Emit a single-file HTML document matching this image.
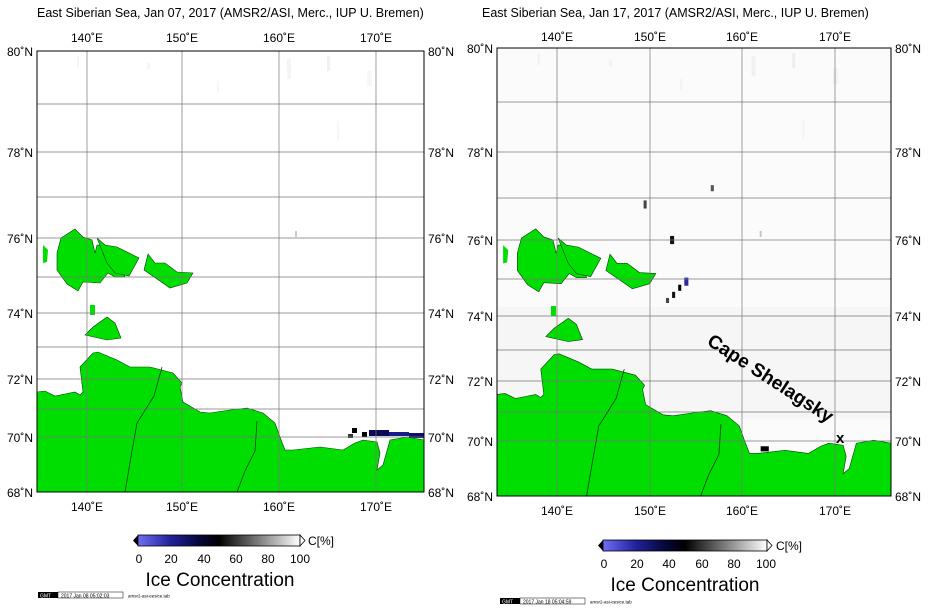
<!DOCTYPE html>
<html><head><meta charset="utf-8"><style>
html,body{margin:0;padding:0;background:#fff;}
svg{display:block;font-family:"Liberation Sans",sans-serif;}
</style></head><body>
<svg width="938" height="610" viewBox="0 0 938 610" xmlns="http://www.w3.org/2000/svg">
<defs>
<linearGradient id="cb" x1="0" x2="1" y1="0" y2="0">
<stop offset="0" stop-color="#6e6ef5"/><stop offset="0.2" stop-color="#22229a"/><stop offset="0.38" stop-color="#06063a"/><stop offset="0.5" stop-color="#000"/><stop offset="1" stop-color="#fff"/>
</linearGradient>
<g id="land">
<polygon fill="#00dd00" stroke="#004400" stroke-width="0.6" points="0,341 8,340 18,345 28,343 38,341 43,344 46,341 43,316 56,302 61,301 80,309 93,316 113,316 136,322 145,332 143,336 146,351 163,361 173,362 193,359 210,357 226,362 238,372 243,386 248,399 256,399 283,396 306,399 318,392 326,389 340,391 343,402 340,419 346,414 353,389 370,386 387,389 387,441 0,441"/>
<polygon fill="#00dd00" stroke="#004400" stroke-width="0.6" points="24,187 38,178 46,186 55,189 58,202 60,194 68,194 80,207 88,226 78,226 71,222 63,232 46,231 41,240 30,233 20,219 20,202"/>
<polygon fill="#00dd00" stroke="#004400" stroke-width="0.6" points="60,187 68,194 80,196 102,207 92,225 78,222 70,212"/>
<polygon fill="#00dd00" stroke="#004400" stroke-width="0.6" points="111,203 118,212 128,212 140,221 156,222 150,232 133,237 107,219"/>
<polygon fill="#00dd00" points="6,194 11,199 10,211 6,212"/>
<polygon fill="#00dd00" points="53,254 58,254 58,264 53,264"/>
<polygon fill="#00dd00" stroke="#004400" stroke-width="0.6" points="70,266 78,272 84,287 70,289 48,284 56,276"/>
<polyline fill="none" stroke="#004400" stroke-width="0.8" points="125,316 117,345 100,372 95,400 88,441"/>
<polyline fill="none" stroke="#004400" stroke-width="0.8" points="220,370 218,400 208,420 200,441"/>
</g>
<g id="noise" fill="#000">
<rect x="40" y="5" width="2" height="12" opacity="0.04"/><rect x="110" y="12" width="3" height="6" opacity="0.04"/><rect x="250" y="8" width="4" height="20" opacity="0.04"/><rect x="290" y="5" width="3" height="15" opacity="0.05"/><rect x="330" y="20" width="5" height="15" opacity="0.03"/><rect x="180" y="30" width="2" height="12" opacity="0.03"/><rect x="300" y="70" width="2" height="20" opacity="0.03"/><rect x="258" y="180" width="2" height="6" opacity="0.2"/>
</g>
</defs>

<!-- LEFT PANEL -->
<text x="37" y="17" font-size="12.5">East Siberian Sea, Jan 07, 2017 (AMSR2/ASI, Merc., IUP U. Bremen)</text>
<g transform="translate(37,51)"><use href="#noise"/><use href="#land"/>
<g>
<rect x="315" y="377" width="5" height="5" fill="#000"/><rect x="325" y="381" width="5" height="5" fill="#000"/><rect x="332" y="379" width="20" height="6" fill="#0a0a55"/><rect x="352" y="381" width="20" height="4" fill="#1a1a88"/><rect x="372" y="382" width="15" height="5" fill="#101070"/><rect x="311" y="383" width="5" height="4" fill="#333"/>
</g></g>
<g stroke="#777" stroke-width="0.7">
<line x1="87" y1="51" x2="87" y2="492"/><line x1="182" y1="51" x2="182" y2="492"/><line x1="279" y1="51" x2="279" y2="492"/><line x1="376" y1="51" x2="376" y2="492"/>
<line x1="37" y1="104" x2="424" y2="104"/><line x1="37" y1="152" x2="424" y2="152"/><line x1="37" y1="197" x2="424" y2="197"/><line x1="37" y1="238" x2="424" y2="238"/><line x1="37" y1="277" x2="424" y2="277"/><line x1="37" y1="313" x2="424" y2="313"/><line x1="37" y1="347" x2="424" y2="347"/><line x1="37" y1="379" x2="424" y2="379"/><line x1="37" y1="409" x2="424" y2="409"/><line x1="37" y1="437" x2="424" y2="437"/>
</g>
<rect x="37" y="51" width="387" height="441" fill="none" stroke="#000" stroke-width="1"/>
<g font-size="12" text-anchor="middle">
<text x="87" y="42">140˚E</text><text x="182" y="42">150˚E</text><text x="279" y="42">160˚E</text><text x="376" y="42">170˚E</text>
<text x="87" y="511">140˚E</text><text x="182" y="511">150˚E</text><text x="279" y="511">160˚E</text><text x="376" y="511">170˚E</text>
</g>
<g font-size="12" text-anchor="end">
<text x="33" y="56">80˚N</text><text x="33" y="157">78˚N</text><text x="33" y="243">76˚N</text><text x="33" y="318">74˚N</text><text x="33" y="384">72˚N</text><text x="33" y="442">70˚N</text><text x="33" y="497">68˚N</text>
</g>
<g font-size="12">
<text x="428" y="56">80˚N</text><text x="428" y="157">78˚N</text><text x="428" y="243">76˚N</text><text x="428" y="318">74˚N</text><text x="428" y="384">72˚N</text><text x="428" y="442">70˚N</text><text x="428" y="497">68˚N</text>
</g>
<rect x="138" y="535" width="162" height="11" fill="url(#cb)" stroke="#000" stroke-width="0.8"/>
<polygon points="138,535 133,540.5 138,546" fill="#000"/>
<polygon points="300,535 305,540.5 300,546" fill="#fff" stroke="#000" stroke-width="0.8"/>
<text x="308" y="545" font-size="12">C[%]</text>
<g font-size="12" text-anchor="middle"><text x="139" y="563">0</text><text x="171" y="563">20</text><text x="204" y="563">40</text><text x="236" y="563">60</text><text x="268" y="563">80</text><text x="300" y="563">100</text></g>
<text x="220" y="586" font-size="19" text-anchor="middle">Ice Concentration</text>
<rect x="38" y="592" width="20" height="6" fill="#000"/><text x="40" y="597.5" font-size="5" fill="#fff">GMT</text>
<rect x="58" y="592" width="65" height="6" fill="#fff" stroke="#000" stroke-width="0.5"/><text x="61" y="597.5" font-size="5">2017 Jan 08 05:02:03</text>
<text x="128" y="597.5" font-size="4.5">amsr2-asi-eesice.tab</text>

<!-- RIGHT PANEL -->
<text x="482" y="17" font-size="12.5">East Siberian Sea, Jan 17, 2017 (AMSR2/ASI, Merc., IUP U. Bremen)</text>
<g transform="translate(497,48) scale(1.018,1.016)">
<rect x="0" y="0" width="387" height="441" fill="#000" opacity="0.015"/>
<use href="#noise"/>
<rect x="0" y="255" width="387" height="110" fill="#000" opacity="0.02"/>
<use href="#land"/>
<rect x="144" y="150" width="3" height="8" fill="#444"/><rect x="170" y="185" width="4" height="8" fill="#111"/><rect x="184" y="226" width="4" height="8" fill="#2a2aa0"/><rect x="178" y="233" width="3" height="6" fill="#000"/><rect x="172" y="240" width="3" height="6" fill="#111"/><rect x="166" y="246" width="3" height="5" fill="#444"/><rect x="210" y="135" width="3" height="6" fill="#555"/><rect x="259" y="392" width="8" height="5" fill="#000"/>
</g>
<g stroke="#777" stroke-width="0.7">
<line x1="557" y1="48" x2="557" y2="496"/><line x1="650" y1="48" x2="650" y2="496"/><line x1="742" y1="48" x2="742" y2="496"/><line x1="835" y1="48" x2="835" y2="496"/>
<line x1="497" y1="102" x2="891" y2="102"/><line x1="497" y1="152" x2="891" y2="152"/><line x1="497" y1="198" x2="891" y2="198"/><line x1="497" y1="240" x2="891" y2="240"/><line x1="497" y1="279" x2="891" y2="279"/><line x1="497" y1="316" x2="891" y2="316"/><line x1="497" y1="350" x2="891" y2="350"/><line x1="497" y1="381" x2="891" y2="381"/><line x1="497" y1="412" x2="891" y2="412"/><line x1="497" y1="441" x2="891" y2="441"/>
</g>
<rect x="497" y="48" width="394" height="448" fill="none" stroke="#000" stroke-width="1"/>
<g font-size="12" text-anchor="middle">
<text x="557" y="41">140˚E</text><text x="650" y="41">150˚E</text><text x="742" y="41">160˚E</text><text x="835" y="41">170˚E</text>
<text x="557" y="515">140˚E</text><text x="650" y="515">150˚E</text><text x="742" y="515">160˚E</text><text x="835" y="515">170˚E</text>
</g>
<g font-size="12" text-anchor="end">
<text x="493" y="53">80˚N</text><text x="493" y="157">78˚N</text><text x="493" y="245">76˚N</text><text x="493" y="321">74˚N</text><text x="493" y="386">72˚N</text><text x="493" y="446">70˚N</text><text x="493" y="501">68˚N</text>
</g>
<g font-size="12">
<text x="895" y="53">80˚N</text><text x="895" y="157">78˚N</text><text x="895" y="245">76˚N</text><text x="895" y="321">74˚N</text><text x="895" y="386">72˚N</text><text x="895" y="446">70˚N</text><text x="895" y="501">68˚N</text>
</g>
<text x="0" y="0" font-size="19" font-weight="bold" transform="translate(706,344) rotate(33)">Cape Shelagsky</text>
<text x="836" y="443" font-size="15" font-weight="bold">x</text>
<rect x="603" y="540" width="164" height="11" fill="url(#cb)" stroke="#000" stroke-width="0.8"/>
<polygon points="603,540 598,545.5 603,551" fill="#000"/>
<polygon points="767,540 772,545.5 767,551" fill="#fff" stroke="#000" stroke-width="0.8"/>
<text x="776" y="550" font-size="12">C[%]</text>
<g font-size="12" text-anchor="middle"><text x="604" y="568">0</text><text x="637" y="568">20</text><text x="669" y="568">40</text><text x="702" y="568">60</text><text x="734" y="568">80</text><text x="766" y="568">100</text></g>
<text x="685" y="591" font-size="19" text-anchor="middle">Ice Concentration</text>
<rect x="500" y="598" width="20" height="6" fill="#000"/><text x="502" y="603.5" font-size="5" fill="#fff">GMT</text>
<rect x="520" y="598" width="65" height="6" fill="#fff" stroke="#000" stroke-width="0.5"/><text x="523" y="603.5" font-size="5">2017 Jan 18 05:04:59</text>
<text x="590" y="603.5" font-size="4.5">amsr2-asi-eesice.tab</text>
</svg>
</body></html>
